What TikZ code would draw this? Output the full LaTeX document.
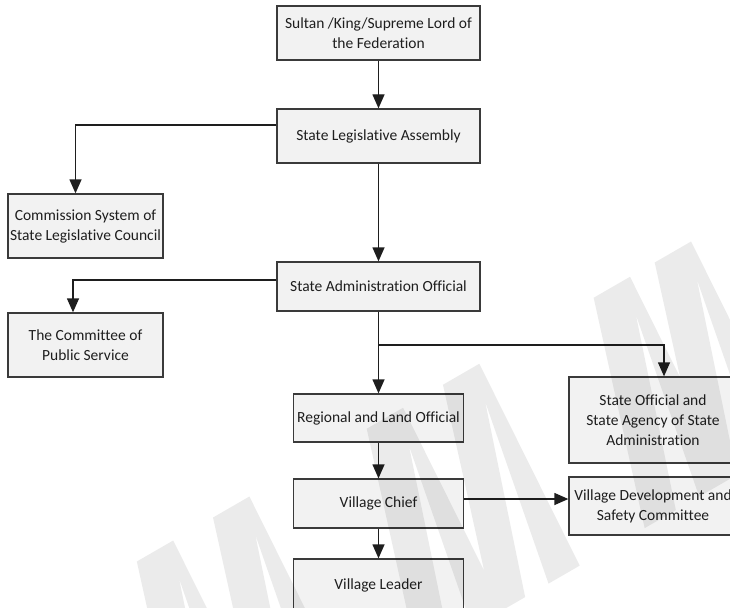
\documentclass[tikz,border=0pt]{standalone}
\usepackage{fontspec}
\setmainfont{Carlito}[Ligatures=NoCommon]
\usetikzlibrary{arrows.meta}
\definecolor{boxfill}{HTML}{F2F2F2}
\definecolor{boxline}{HTML}{3A3A3A}
\definecolor{ink}{HTML}{1E1E1E}
\begin{document}
\begin{tikzpicture}[x=1pt,y=-1pt,
  orgbox/.style={draw=boxline, fill=boxfill, line width=1.3pt, inner sep=0pt,
    align=center, text=ink, font=\fontsize{15.5}{20}\selectfont},
  link/.style={draw=ink, line width=1.3pt, -{Triangle[width=12pt,length=14pt]}},
  wmfill/.style={fill=black, fill opacity=0.08}
]
\useasboundingbox (0,0) rectangle (730,607);

% organisation boxes
\node[orgbox, minimum width=203pt, minimum height=54pt] (sultan) at (378.5,33)
  {Sultan /King/Supreme Lord of\\the Federation};
\node[orgbox, minimum width=203pt, minimum height=54pt] (assembly) at (378.5,136)
  {State Legislative Assembly};
\node[orgbox, minimum width=155pt, minimum height=64pt] (commission) at (85.5,226)
  {Commission System of\\State Legislative Council};
\node[orgbox, minimum width=203pt, minimum height=49pt] (admin) at (378.5,286.5)
  {State Administration Official};
\node[orgbox, minimum width=155pt, minimum height=64pt] (committee) at (85.5,345)
  {The Committee of\\Public Service};
\node[orgbox, minimum width=170pt, minimum height=48pt] (regional) at (378.5,418)
  {Regional and Land Official};
\node[orgbox, minimum width=168pt, minimum height=86pt] (stateoff) at (653,420)
  {State Official and\\State Agency of State\\Administration};
\node[orgbox, minimum width=170pt, minimum height=49pt] (chief) at (378.5,503.5)
  {Village Chief};
\node[orgbox, minimum width=168pt, minimum height=58pt] (vdsc) at (653,506)
  {Village Development and\\Safety Committee};
\node[orgbox, minimum width=170pt, minimum height=53pt] (leader) at (378.5,585.5)
  {Village Leader};

% connectors
\coordinate (split) at (378.5,345);
\draw[link] (sultan) -- (assembly);
\draw[link] ([yshift=11pt]assembly.west) -| ([xshift=-10pt]commission.north);
\draw[link] (assembly) -- (admin);
\draw[link] ([yshift=6.5pt]admin.west) -| ([xshift=-12.5pt]committee.north);
\draw[link] (admin) -- (regional);
\draw[link] (split) -| ([xshift=11pt]stateoff.north);
\draw[link] (regional) -- (chief);
\draw[link] ([yshift=4.5pt]chief.east) -- ([yshift=4.5pt]chief.east -| vdsc.west);
\draw[link] (chief) -- (leader);

% faint slanted lettering over the chart: each peak is a pair of strokes
\begin{scope}[shift={(155,551)}, rotate=30]
  \fill[wmfill]
    \foreach \u in {0,88,265.5,353.5,527.5,598}{
      (\u-21,0) -- (\u+21,0) -- (\u+7,225) -- (\u-29,225) -- (\u+7,36)
        -- (\u-56,225) -- (\u-92,225) -- cycle
    };
\end{scope}
\end{tikzpicture}
\end{document}
